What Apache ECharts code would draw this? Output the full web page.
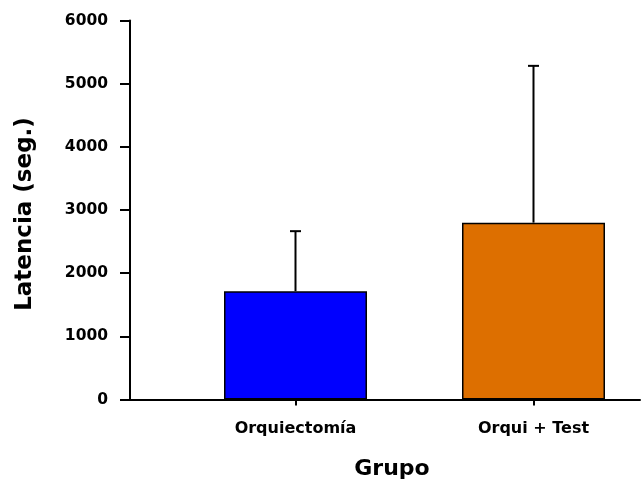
<!DOCTYPE html>
<html>
<head>
<meta charset="utf-8">
<script src="https://cdn.jsdelivr.net/npm/echarts@6/dist/echarts.min.js"></script>
<style>html,body{margin:0;padding:0;background:#fff;}#c{width:641px;height:481px;}</style>
</head>
<body>
<div id="c"></div>
<script>
var categories = ['Orquiectomía', 'Orqui + Test'];
var positions = [1, 2];
var means = [1715, 2800];
var errors = [950, 2482];
var colors = ['#0000FF', '#DD6F00'];
var yTicks = [0, 1000, 2000, 3000, 4000, 5000, 6000];

var chart = echarts.init(document.getElementById('c'), null, {renderer: 'canvas'});
var font = '"DejaVu Sans", sans-serif';

var barData = means.map(function (m, i) {
  return {value: [positions[i], m], itemStyle: {color: colors[i]}};
});
var errData = means.map(function (m, i) {
  return [positions[i], m, m + errors[i]];
});

chart.setOption({
  animation: false,
  backgroundColor: '#fff',
  grid: {left: 130, right: 1, top: 20.5, bottom: 81.5, containLabel: false, outerBoundsMode: 'none'},
  xAxis: {
    type: 'value',
    min: 0.3046,
    max: 2.4475,
    splitLine: {show: false},
    axisLine: {show: true, onZero: false, lineStyle: {color: '#000', width: 2}},
    axisTick: {show: true, customValues: positions, length: 6, lineStyle: {color: '#000', width: 2}},
    axisLabel: {
      show: true, customValues: positions, margin: 21,
      color: '#000', fontSize: 16, fontWeight: 'bold', fontFamily: font,
      formatter: function (v) { var i = positions.indexOf(Math.round(v)); return i >= 0 ? categories[i] : ''; }
    },
    name: 'Grupo',
    nameLocation: 'middle',
    nameGap: 59,
    nameTextStyle: {color: '#000', fontSize: 22, fontWeight: 'bold', fontFamily: font, padding: [0, 0, 0, 14]}
  },
  yAxis: {
    type: 'value',
    min: yTicks[0],
    max: yTicks[yTicks.length - 1],
    interval: 1000,
    splitLine: {show: false},
    axisLine: {show: true, lineStyle: {color: '#000', width: 2}},
    axisTick: {show: true, length: 10, lineStyle: {color: '#000', width: 2}},
    axisLabel: {
      margin: 22, color: '#000', fontSize: 15.5, fontWeight: 'bold', fontFamily: font,
      formatter: function (v) { return String(v); }
    },
    name: 'Latencia (seg.)',
    nameLocation: 'middle',
    nameGap: 93,
    nameTextStyle: {color: '#000', fontSize: 23, fontWeight: 'bold', fontFamily: font, padding: [0, 8, 0, 0]}
  },
  series: [
    {
      type: 'bar',
      data: barData,
      barWidth: 143,
      itemStyle: {borderColor: '#000', borderWidth: 1.5},
      z: 2
    },
    {
      type: 'custom',
      data: errData,
      z: 3,
      renderItem: function (params, api) {
        var x = api.value(0);
        var lo = api.coord([x, api.value(1)]);
        var hi = api.coord([x, api.value(2)]);
        var cap = 5.5;
        return {
          type: 'group',
          children: [
            {type: 'line', shape: {x1: lo[0], y1: lo[1], x2: hi[0], y2: hi[1]}, style: {stroke: '#000', lineWidth: 2}},
            {type: 'line', shape: {x1: hi[0] - cap, y1: hi[1], x2: hi[0] + cap, y2: hi[1]}, style: {stroke: '#000', lineWidth: 2}}
          ]
        };
      }
    }
  ]
});
</script>
</body>
</html>
